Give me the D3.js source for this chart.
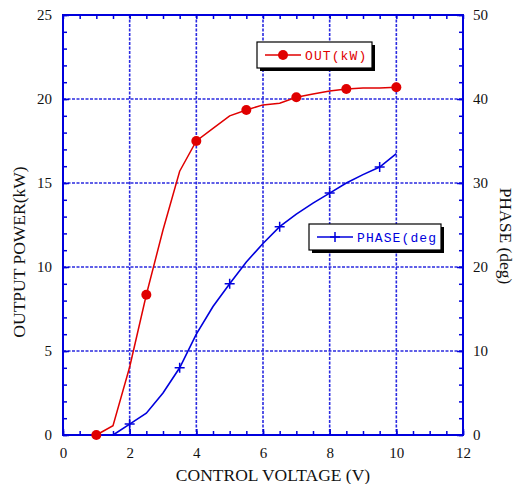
<!DOCTYPE html>
<html><head><meta charset="utf-8">
<script src="https://cdn.jsdelivr.net/npm/d3@7"></script>
<style>body{margin:0;background:#fff}svg{display:block}</style>
</head><body>
<script>
// ---- data ----
const voltage = [1.0,1.5,2.0,2.5,3.0,3.5,4.0,4.5,5.0,5.5,6.0,6.5,7.0,7.5,8.0,8.5,9.0,9.5,10.0];
const outKW   = [0,0.55,4.05,8.35,12.2,15.7,17.5,18.25,19.0,19.35,19.65,19.75,20.1,20.3,20.48,20.6,20.65,20.65,20.7];
const phaseV  = [1.5,2.0,2.5,3.0,3.5,4.0,4.5,5.0,5.5,6.0,6.5,7.0,7.5,8.0,8.5,9.0,9.5,10.0];
const phaseDeg= [0,1.3,2.6,5.0,8.0,12.0,15.3,18.0,20.6,22.8,24.8,26.3,27.6,28.8,30.0,31.0,31.9,33.5];
const xTicks = [0,2,4,6,8,10,12];
const yLeftTicks = [0,5,10,15,20,25];
const yRightTicks = [0,10,20,30,40,50];
const outMarkerStart = 0, phaseMarkerStart = 1, markerEvery = 3;

const W=519,H=484;
const m={l:63,r:463,t:15,b:435};
const blue="#0000dd", red="#e00000", gridBlue="#2a2ae0";
const x=d3.scaleLinear().domain([0,12]).range([m.l,m.r]);
const yL=d3.scaleLinear().domain([0,25]).range([m.b,m.t]);
const yR=d3.scaleLinear().domain([0,50]).range([m.b,m.t]);

const svg=d3.select("body").append("svg").attr("width",W).attr("height",H);

// grid
const g=svg.append("g");
g.selectAll("line.vg").data(xTicks.filter(d=>d>0&&d<12)).join("line")
 .attr("x1",d=>x(d)).attr("x2",d=>x(d)).attr("y1",m.t).attr("y2",m.b)
 .attr("stroke",gridBlue).attr("stroke-width",1.6).attr("stroke-dasharray","3,1.5");
g.selectAll("line.hg").data(yLeftTicks.filter(d=>d>0&&d<25)).join("line")
 .attr("x1",m.l).attr("x2",m.r).attr("y1",d=>yL(d)).attr("y2",d=>yL(d))
 .attr("stroke",gridBlue).attr("stroke-width",1.6).attr("stroke-dasharray","3,1.5");

// axes (ticks inward)
const tf="Liberation Serif, Times New Roman, serif";
function styleAxis(sel){
  sel.select(".domain").remove();
  sel.selectAll(".tick line").attr("stroke",blue).attr("stroke-width",1.5);
  sel.selectAll(".tick text").attr("fill","#111").style("font-family",tf).style("font-size","15px");
}
const xMinor=d3.range(0,12.01,0.5);
svg.append("g").attr("transform",`translate(0,${m.b})`)
 .call(d3.axisBottom(x).tickValues(xMinor).tickSize(-4).tickFormat(()=>""))
 .call(styleAxis);
svg.append("g").attr("transform",`translate(0,${m.b})`)
 .call(d3.axisBottom(x).tickValues(xTicks).tickSize(-6).tickPadding(12).tickFormat(d3.format("d")))
 .call(styleAxis);
svg.append("g").attr("transform",`translate(0,${m.t})`)
 .call(d3.axisTop(x).tickValues(xMinor).tickSize(-4).tickFormat(()=>""))
 .call(styleAxis);
svg.append("g").attr("transform",`translate(${m.l},0)`)
 .call(d3.axisLeft(yL).tickValues(d3.range(0,25.01,1)).tickSize(-4).tickFormat(()=>""))
 .call(styleAxis);
svg.append("g").attr("transform",`translate(${m.l},0)`)
 .call(d3.axisLeft(yL).tickValues(yLeftTicks).tickSize(-6).tickPadding(11).tickFormat(d3.format("d")))
 .call(styleAxis);
svg.append("g").attr("transform",`translate(${m.r},0)`)
 .call(d3.axisRight(yR).tickValues(d3.range(0,50.01,2)).tickSize(-4).tickFormat(()=>""))
 .call(styleAxis);
svg.append("g").attr("transform",`translate(${m.r},0)`)
 .call(d3.axisRight(yR).tickValues(yRightTicks).tickSize(-6).tickPadding(10).tickFormat(d3.format("d")))
 .call(styleAxis);

// frame
svg.append("rect").attr("x",m.l).attr("y",m.t).attr("width",m.r-m.l).attr("height",m.b-m.t)
 .attr("fill","none").attr("stroke",blue).attr("stroke-width",2);

// series
const outData=voltage.map((v,i)=>({v,y:outKW[i],i}));
const phData=phaseV.map((v,i)=>({v,y:phaseDeg[i],i}));
svg.append("path").datum(outData)
 .attr("d",d3.line().x(d=>x(d.v)).y(d=>yL(d.y)))
 .attr("fill","none").attr("stroke",red).attr("stroke-width",1.5);
svg.append("path").datum(phData)
 .attr("d",d3.line().x(d=>x(d.v)).y(d=>yR(d.y)))
 .attr("fill","none").attr("stroke",blue).attr("stroke-width",1.6);
svg.selectAll("circle.om").data(outData.filter(d=>(d.i-outMarkerStart)%markerEvery===0)).join("circle")
 .attr("cx",d=>x(d.v)).attr("cy",d=>yL(d.y)).attr("r",5).attr("fill",red);
svg.selectAll("path.pm").data(phData.filter(d=>(d.i-phaseMarkerStart)%markerEvery===0)).join("path")
 .attr("transform",d=>`translate(${x(d.v)},${yR(d.y)})`)
 .attr("d","M-5,0H5M0,-5V5").attr("stroke",blue).attr("stroke-width",1.5);

// legends
const mono="Liberation Mono, Courier New, monospace";
function legend(x0,y0,w,h,color,label,marker,id){
  const lg=svg.append("g");
  lg.append("rect").attr("x",x0+3).attr("y",y0+3).attr("width",w).attr("height",h).attr("fill","#000");
  lg.append("rect").attr("x",x0).attr("y",y0).attr("width",w).attr("height",h).attr("fill","#fff").attr("stroke","#000").attr("stroke-width",1.2);
  const cy=y0+h/2;
  lg.append("line").attr("x1",x0+8).attr("x2",x0+44).attr("y1",cy).attr("y2",cy).attr("stroke",color).attr("stroke-width",1.5);
  if(marker==="circle") lg.append("circle").attr("cx",x0+26).attr("cy",cy).attr("r",5).attr("fill",color);
  else lg.append("path").attr("d",`M${x0+21},${cy}H${x0+31}M${x0+26},${cy-5}V${cy+5}`).attr("stroke",color).attr("stroke-width",1.5);
  lg.append("clipPath").attr("id",id).append("rect").attr("x",x0).attr("y",y0).attr("width",w-2).attr("height",h);
  lg.append("text").attr("x",x0+48).attr("y",cy+4.5).text(label).attr("fill",color)
   .attr("clip-path",`url(#${id})`)
   .style("font-family",mono).style("font-size","13px").style("letter-spacing","1.1px");
}
legend(257,42,115,26,red,"OUT(kW)","circle","c1");
legend(309,224,132,26,blue,"PHASE(deg)","plus","c2");

// titles
svg.append("text").attr("x",273).attr("y",481).attr("text-anchor","middle")
 .style("font-family",tf).style("font-size","17.5px").attr("fill","#111").text("CONTROL VOLTAGE (V)");
svg.append("text").attr("transform","translate(25,252) rotate(-90)").attr("text-anchor","middle")
 .style("font-family",tf).style("font-size","17.5px").attr("fill","#111").text("OUTPUT POWER(kW)");
svg.append("text").attr("transform","translate(500,236) rotate(90)").attr("text-anchor","middle")
 .style("font-family",tf).style("font-size","17.5px").attr("fill","#111").text("PHASE (deg)");
</script>
</body></html>
